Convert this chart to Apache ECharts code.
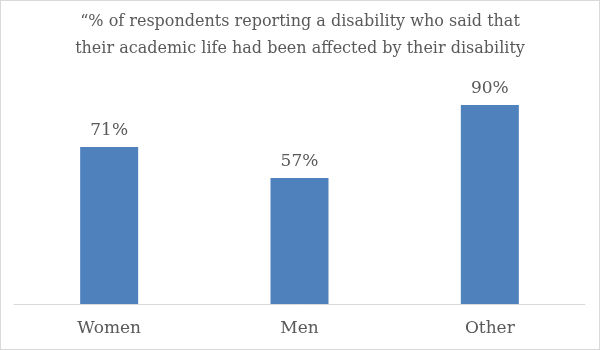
<!DOCTYPE html>
<html><head><meta charset="utf-8">
<script src="https://cdn.jsdelivr.net/npm/echarts@6/dist/echarts.min.js"></script>
<style>html,body{margin:0;padding:0;background:#fff}#c{width:598px;height:348px;border:1px solid #d9d9d9}</style>
</head><body><div id="c"></div>
<script>
const categories = ["Women", "Men", "Other"];
const values = [71, 57, 90];
const titleLines = ["“% of respondents reporting a disability who said that", "their academic life had been affected by their disability"];
const chart = echarts.init(document.getElementById('c'));
const font = "'DejaVu Serif', serif";
chart.setOption({
  animation: false,
  title: {
    text: titleLines.join('\n'), left: 'center', top: 2,
    textStyle: {fontFamily: font, fontSize: 16, fontWeight: 'normal', color: '#595959', lineHeight: 27}
  },
  grid: {left: 13, right: 14, top: 82, bottom: 45},
  xAxis: {
    type: 'category', data: categories,
    axisLine: {lineStyle: {color: '#d9d9d9'}}, axisTick: {show: false},
    axisLabel: {fontFamily: font, fontSize: 17, color: '#595959', margin: 16}
  },
  yAxis: {type: 'value', min: 0, max: 100, show: false},
  series: [{
    type: 'bar', data: values, barWidth: 58,
    itemStyle: {color: '#4F81BD'},
    label: {show: true, position: 'top', formatter: '{c}%', fontFamily: font, fontSize: 17, color: '#595959', distance: 8}
  }]
});
</script></body></html>
